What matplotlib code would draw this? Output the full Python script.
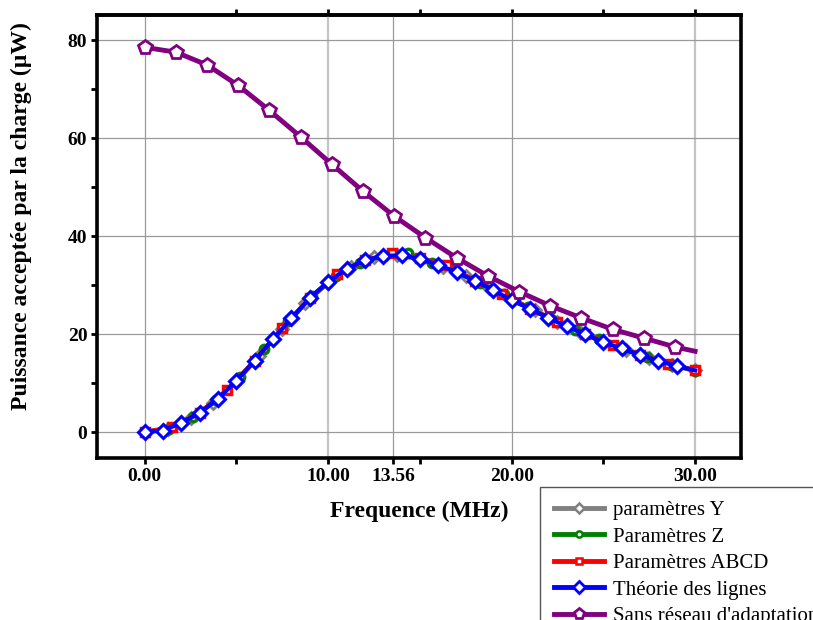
import matplotlib
matplotlib.use('Agg')
import matplotlib.pyplot as plt
from matplotlib.lines import Line2D

# Data (frequency in MHz, power in uW)
x_y = [0, 1.25, 2.5, 3.75, 5.0, 6.25, 7.5, 8.75, 10.0, 11.25, 12.5, 13.75, 15.0,
       16.25, 17.5, 18.75, 20.0, 21.25, 22.5, 23.75, 25.0, 26.25, 27.5, 28.75, 30.0]
p_y = [0, 0.6, 2.8, 6.0, 10.3, 15.6, 21.0, 26.3, 30.5, 33.8, 35.8, 36.2, 35.4,
       33.8, 31.8, 29.5, 27.0, 24.9, 22.5, 20.4, 18.3, 16.8, 15.1, 13.8, 12.6]

x_z = [0, 1.30, 2.61, 3.91, 5.22, 6.52, 7.83, 9.13, 10.43, 11.74, 13.04, 14.35,
       15.65, 16.96, 18.26, 19.57, 20.87, 22.17, 23.48, 24.78, 26.09, 27.39, 28.70, 30.0]
p_z = [0, 0.7, 3.1, 6.5, 11.3, 16.9, 22.6, 27.8, 31.8, 34.6, 36.0, 36.5,
       34.5, 32.8, 30.4, 28.2, 25.5, 23.0, 20.8, 19.0, 17.0, 15.4, 13.7, 12.5]

x_abcd = [0, 1.5, 3.0, 4.5, 6.0, 7.5, 9.0, 10.5, 12.0, 13.5, 15.0, 16.5, 18.0,
          19.5, 21.0, 22.5, 24.0, 25.5, 27.0, 28.5, 30.0]
p_abcd = [0, 1.0, 3.9, 8.6, 14.6, 21.2, 27.4, 32.2, 35.1, 36.5, 35.5, 34.1, 30.9,
          28.2, 25.2, 22.5, 20.0, 17.8, 15.7, 14.0, 12.6]

x_lignes = list(range(0, 31))
p_lignes = [0, 0.3, 1.9, 3.9, 6.8, 10.5, 14.6, 19.0, 23.2, 27.4, 30.7, 33.3, 35.1,
            36.0, 36.1, 35.3, 34.2, 32.6, 30.9, 29.0, 26.9, 25.2, 23.3, 21.6, 20.0,
            18.3, 17.1, 15.7, 14.5, 13.5, 12.6]

x_sans = [0, 1.7, 3.4, 5.1, 6.8, 8.5, 10.2, 11.9, 13.6, 15.3, 17.0, 18.7, 20.4,
          22.1, 23.8, 25.5, 27.2, 28.9, 30.0]
p_sans = [78.6, 77.6, 75.0, 70.8, 65.7, 60.3, 54.7, 49.2, 44.1, 39.7, 35.6, 31.9,
          28.7, 25.8, 23.3, 21.0, 19.2, 17.4, 16.5]

labels = ["paramètres Y", "Paramètres Z", "Paramètres ABCD",
          "Théorie des lignes", "Sans réseau d'adaptation"]
colors = ["#808080", "#008000", "#ff0000", "#0000ff", "#800080"]

xticks = [0, 10, 13.56, 20, 30]
xticklabels = ["0.00", "10.00", "13.56", "20.00", "30.00"]

fig = plt.figure(figsize=(8.13, 6.2), dpi=100)
ax = fig.add_axes([0.1193, 0.2613, 0.7921, 0.7145])

# series
ax.plot(x_y, p_y, '-', color=colors[0], lw=3.2, marker='D', ms=6,
        mfc='white', mec=colors[0], mew=2, zorder=3)
ax.plot(x_z, p_z, '-', color=colors[1], lw=3.2, marker='o', ms=6,
        mfc='white', mec=colors[1], mew=2.5, zorder=4)
ax.plot(x_abcd, p_abcd, '-', color=colors[2], lw=3.2, marker='s', ms=6,
        mfc='white', mec=colors[2], mew=2.5, zorder=5)
ax.plot(x_lignes, p_lignes, '-', color=colors[3], lw=3.0, marker='D', ms=7.5,
        mfc='white', mec=colors[3], mew=2.2, markevery=slice(0, 30), zorder=6)
ax.plot(x_sans, p_sans, '-', color=colors[4], lw=3.5, marker='p', ms=10,
        mfc='white', mec=colors[4], mew=2, markevery=slice(0, 18), zorder=7)

ax.set_xlim(-2.6, 32.5)
ax.set_ylim(-5.3, 85.2)

ax.set_xticks(xticks)
ax.set_xticklabels(xticklabels)
ax.set_xticks([5, 15, 25], minor=True)
ax.set_yticks([0, 20, 40, 60, 80])
ax.set_yticks([10, 30, 50, 70], minor=True)

ax.grid(True, which='major', color='#9a9a9a', lw=0.9)
for i in (1, 4):
    ax.xaxis.get_gridlines()[i].set_color('#c4c4c4')
    ax.xaxis.get_gridlines()[i].set_linewidth(1.6)
ax.set_axisbelow(True)

for s in ax.spines.values():
    s.set_linewidth(2.6)

ax.tick_params(axis='both', which='both', direction='out', length=4.5,
               width=2, color='black', pad=2.5, right=False, top=False)
for t in ax.get_xticklabels() + ax.get_yticklabels():
    t.set_fontfamily('Liberation Serif')
    t.set_fontweight('bold')
    t.set_fontsize(14)

top = ax.secondary_xaxis('top')
top.set_xticks([5, 10, 15, 20, 25, 30])
top.set_xticklabels([])
top.tick_params(direction='out', length=4.5, width=2)
top.spines['top'].set_linewidth(2.6)

ax.set_xlabel("Frequence (MHz)", family='Liberation Serif', fontweight='bold',
              fontsize=17)
ax.xaxis.set_label_coords(0.5, -0.097)
ax.set_ylabel("Puissance acceptée par la charge (µW)", family='Liberation Serif',
              fontweight='bold', fontsize=17)
ax.yaxis.set_label_coords(-0.101, 0.546)

handles = [
    Line2D([], [], color=colors[0], lw=3.5, marker='D', ms=5, mfc='white', mec=colors[0], mew=1.8),
    Line2D([], [], color=colors[1], lw=3.5, marker='o', ms=4.5, mfc='white', mec=colors[1], mew=1.8),
    Line2D([], [], color=colors[2], lw=3.5, marker='s', ms=4.5, mfc='white', mec=colors[2], mew=1.8),
    Line2D([], [], color=colors[3], lw=3.5, marker='D', ms=6.5, mfc='white', mec=colors[3], mew=2),
    Line2D([], [], color=colors[4], lw=3.5, marker='p', ms=8, mfc='white', mec=colors[4], mew=2),
]
leg = fig.legend(handles, labels, loc='upper left', bbox_to_anchor=(540 / 813, 1 - 487 / 620),
                 prop={'family': 'Liberation Serif', 'size': 15}, frameon=True,
                 fancybox=False, edgecolor='#555555', framealpha=1,
                 handlelength=2.4, handletextpad=0.45, labelspacing=0.33,
                 borderpad=0.65, borderaxespad=0)
leg.get_frame().set_linewidth(1)

fig.savefig('out.png', dpi=100)
